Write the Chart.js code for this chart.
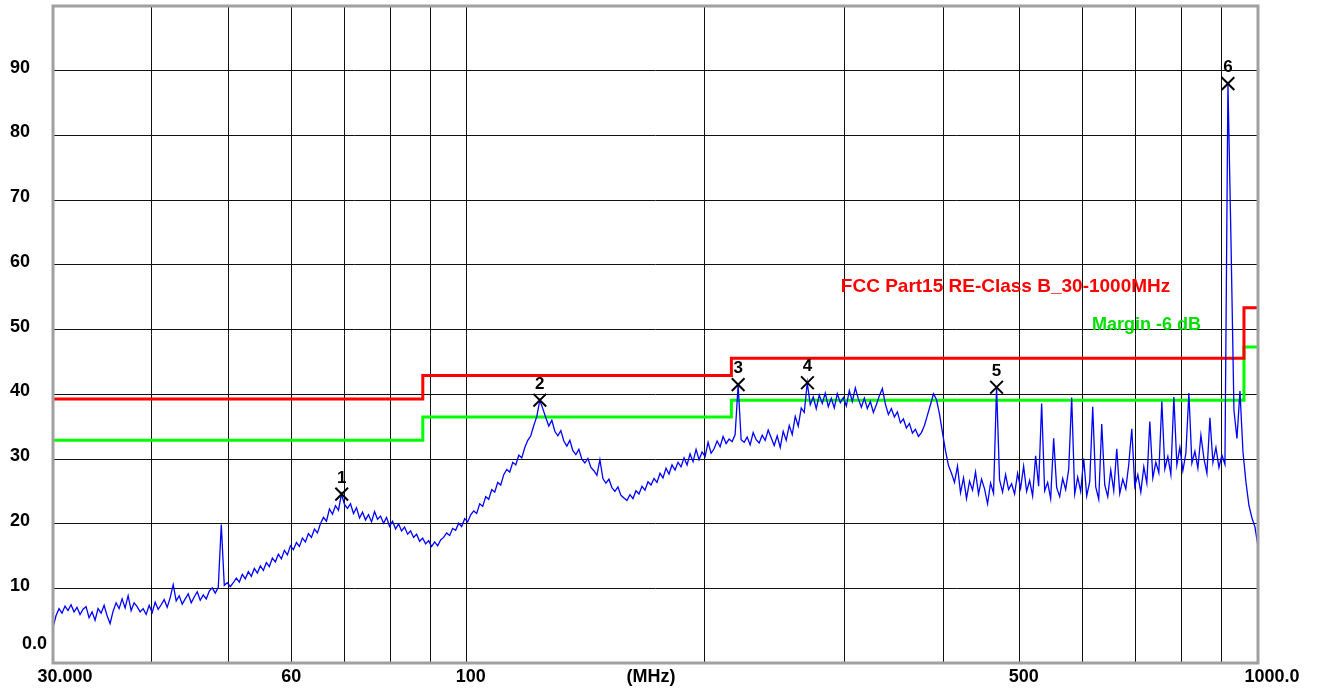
<!DOCTYPE html>
<html><head><meta charset="utf-8">
<script src="https://cdn.jsdelivr.net/npm/chart.js@4"></script>
<style>html,body{margin:0;padding:0;background:#fff;}#wrap{width:1319px;height:690px;}</style>
</head><body><div id="wrap"><canvas id="c" width="1319" height="690"></canvas></div>
<script>
// ---- data ----
const sweepStartMHz = 30;
const sweepStopMHz = 1000;
const traceLevels = [
4.0, 5.8, 6.9, 6.2, 7.3, 6.6, 7.5, 6.4, 7.1, 6.0,
6.8, 7.2, 5.5, 6.4, 5.1, 6.9, 6.2, 7.4, 5.8, 4.6,
6.5, 7.8, 6.9, 8.4, 7.0, 8.9, 6.6, 7.8, 7.2, 6.4,
6.9, 6.0, 7.4, 6.3, 7.9, 6.8, 7.5, 8.3, 7.1, 8.6,
10.6, 8.1, 8.9, 7.6, 8.4, 9.2, 7.8, 8.7, 9.5, 8.2,
9.0, 8.4, 9.6, 10.1, 9.3, 10.2, 19.9, 10.5, 10.9, 10.3,
10.9, 11.6, 11.0, 12.2, 11.5, 12.6, 11.9, 13.1, 12.4, 13.5,
12.8, 14.0, 13.4, 14.7, 14.1, 15.3, 14.6, 15.9, 15.2, 16.6,
16.0, 17.1, 16.5, 17.8, 17.2, 18.5, 17.9, 19.2, 18.6, 20.0,
21.0, 20.4, 22.3, 21.5, 22.8, 22.1, 24.6, 23.0, 22.4, 23.1,
21.6, 22.5, 20.9, 21.8, 20.6, 21.4, 20.3, 21.9, 20.7, 21.2,
20.1, 21.0, 19.6, 20.4, 19.2, 20.0, 18.9, 19.5, 18.4, 18.9,
17.9, 18.4, 17.3, 17.8, 16.9, 17.4, 16.5, 17.2, 16.6, 17.5,
17.9, 18.6, 18.2, 19.3, 19.0, 20.1, 19.6, 20.8, 20.3, 21.4,
22.0, 21.6, 23.1, 22.7, 24.2, 23.8, 25.3, 24.9, 26.4, 26.0,
27.6, 28.4, 28.0, 29.5, 29.1, 30.6, 30.2, 31.8, 32.9, 33.6,
35.2, 36.6, 39.1, 37.8, 36.4, 35.1, 36.0, 34.3, 33.6, 34.4,
32.8, 32.0, 32.9, 31.3, 30.7, 31.5, 30.0, 29.4, 30.1, 28.7,
28.2, 27.5, 29.9, 27.0, 26.3, 26.9, 25.6, 25.0, 25.7, 24.4,
24.0, 23.6, 24.5, 23.9, 25.1, 24.6, 25.8, 25.2, 26.5, 26.0,
27.0, 26.4, 27.8, 27.1, 28.6, 27.7, 29.1, 28.3, 29.5, 28.8,
30.2, 29.1, 30.8, 29.6, 31.5, 29.9, 31.1, 30.4, 32.6, 30.9,
31.6, 32.8, 31.9, 33.5, 32.4, 33.1, 32.7, 33.8, 41.5, 33.0,
32.6, 33.4, 32.2, 34.1, 33.0, 32.5, 33.7, 32.9, 34.5, 33.3,
32.1, 33.6, 31.8, 34.3, 32.9, 35.2, 33.8, 36.6, 35.1, 37.9,
37.2, 41.8, 38.4, 39.6, 37.8, 39.9, 38.6, 40.2, 38.1, 39.4,
37.9, 40.1, 38.7, 39.5, 38.2, 40.6, 38.9, 41.0, 39.3, 38.0,
39.4, 37.8, 38.9, 37.2, 38.4, 39.8, 40.9, 38.5, 36.9, 37.8,
36.5, 37.3, 35.6, 36.2, 34.8, 35.5, 34.0, 34.6, 33.5, 34.1,
35.2, 36.8, 38.4, 40.1, 39.2, 37.0, 34.1, 31.3, 29.0, 27.8,
26.4, 28.9, 24.8, 27.1, 23.9, 26.6, 25.2, 28.0, 24.6, 26.9,
25.4, 23.1, 26.3, 24.7, 41.1, 26.8, 24.9, 27.6, 25.3, 26.2,
24.6, 27.8, 25.5, 28.9, 25.0, 26.7, 24.3, 30.5, 25.8, 38.6,
25.1, 26.4, 23.9, 33.2, 25.6, 24.2, 27.0, 25.3, 28.4, 39.5,
24.6, 27.2, 25.0, 30.1, 24.3, 26.5, 38.1, 25.7, 23.8, 35.4,
26.0, 24.2, 28.3, 25.1, 31.6, 24.7, 26.9, 25.4, 29.2, 34.7,
25.8, 27.6, 24.9, 28.8, 26.3, 35.8, 27.1, 29.5, 27.9, 38.9,
28.5, 30.4, 27.6, 39.6, 29.1, 31.8, 28.2, 30.9, 40.2, 29.4,
31.2, 28.6, 33.7, 30.1, 27.8, 36.4, 29.5, 31.8, 28.7, 30.6,
29.2, 88.0, 64.0, 37.5, 33.2, 40.5, 31.1, 26.4, 22.8, 20.9,
19.5, 16.5
];
const limitFreqs = [30, 88, 216, 960, 1000];
const limitLevels = [39.3, 42.9, 45.6, 53.4, 53.4];
const marginLevels = [32.9, 36.5, 39.1, 47.3, 47.3];
const markerFreqs = [69.5, 123.7, 220.3, 269.5, 467.3, 916.2];
const markerLevels = [24.6, 39.1, 41.5, 41.8, 41.1, 88.0];
const markerLabels = ['1', '2', '3', '4', '5', '6'];
const xGridFreqs = [40, 50, 60, 70, 80, 90, 100, 200, 300, 400, 500, 600, 700, 800, 900];
const yGridLevels = [10, 20, 30, 40, 50, 60, 70, 80, 90];
const xTickFreqs = [30, 60, 100, 171, 500, 1000];
const xTickLabels = ['30.000', '60', '100', '(MHz)', '500', '1000.0'];
const yTickLevels = [0, 10, 20, 30, 40, 50, 60, 70, 80, 90];
const yTickLabels = ['0.0', '10', '20', '30', '40', '50', '60', '70', '80', '90'];
const limitTitle = 'FCC Part15 RE-Class B_30-1000MHz';
const marginTitle = 'Margin -6 dB';

// ---- build datasets ----
const N = traceLevels.length;
const tracePoints = traceLevels.map((v, i) => ({
  x: sweepStartMHz * Math.pow(sweepStopMHz / sweepStartMHz, i / (N - 1)), y: v }));
const limitPoints = limitFreqs.map((f, i) => ({ x: f, y: limitLevels[i] }));
const marginPoints = limitFreqs.map((f, i) => ({ x: f, y: marginLevels[i] }));
const markerPoints = markerFreqs.map((f, i) => ({ x: f, y: markerLevels[i] }));

const FONT = '"Liberation Sans", Arial, sans-serif';

const decor = {
  id: 'decor',
  afterDatasetsDraw(chart) {
    const { ctx, chartArea: a, scales: { x, y } } = chart;
    ctx.save();
    // plot border
    ctx.strokeStyle = '#a0a0a0';
    ctx.lineWidth = 3;
    ctx.strokeRect(a.left, a.top, a.right - a.left, a.bottom - a.top);
    // marker numbers
    ctx.fillStyle = '#000';
    ctx.font = 'bold 17px ' + FONT;
    ctx.textAlign = 'center';
    ctx.textBaseline = 'middle';
    chart.getDatasetMeta(0).data.forEach((p, i) => {
      ctx.fillText(markerLabels[i], p.x, p.y - 16);
    });
    // limit titles
    ctx.textAlign = 'left';
    ctx.font = 'bold 19px ' + FONT;
    ctx.fillStyle = '#ff0000';
    ctx.fillText(limitTitle, x.getPixelForValue(297), y.getPixelForValue(56.6));
    ctx.font = 'bold 18px ' + FONT;
    ctx.fillStyle = '#00e000';
    ctx.fillText(marginTitle, x.getPixelForValue(617), y.getPixelForValue(50.7));
    // y tick labels
    ctx.fillStyle = '#000';
    ctx.font = 'bold 18px ' + FONT;
    ctx.textAlign = 'right';
    yTickLevels.forEach((v, i) => {
      const py = y.getPixelForValue(v);
      if (i === 0) ctx.fillText(yTickLabels[i], a.left - 6, py - 9);
      else ctx.fillText(yTickLabels[i], a.left - 23, py - 3);
    });
    // x tick labels
    const xShift = [12, 0, 4, 0, 4, 14];
    ctx.textAlign = 'center';
    xTickFreqs.forEach((f, i) => {
      ctx.fillText(xTickLabels[i], x.getPixelForValue(f) + xShift[i], a.bottom + 14);
    });
    ctx.restore();
  }
};

new Chart(document.getElementById('c'), {
  type: 'line',
  data: {
    datasets: [
      { data: markerPoints, showLine: false, pointStyle: 'crossRot', pointRadius: 9,
        pointBorderColor: '#000', pointBorderWidth: 2, pointBackgroundColor: '#000' },
      { data: tracePoints, borderColor: '#0000ff', borderWidth: 1.3, pointRadius: 0, tension: 0 },
      { data: limitPoints, borderColor: '#ff0000', borderWidth: 3, pointRadius: 0, stepped: true },
      { data: marginPoints, borderColor: '#00ff00', borderWidth: 3, pointRadius: 0, stepped: true }
    ]
  },
  options: {
    responsive: false,
    animation: false,
    devicePixelRatio: 1,
    layout: { autoPadding: false, padding: { top: 6, right: 61, left: 0, bottom: 0 } },
    plugins: { legend: { display: false }, tooltip: { enabled: false } },
    scales: {
      x: {
        type: 'logarithmic', min: sweepStartMHz, max: sweepStopMHz,
        afterBuildTicks: s => { s.ticks = xGridFreqs.map(v => ({ value: v })); },
        afterFit: s => { s.height = 27; },
        ticks: { display: false },
        grid: { color: '#111', lineWidth: 1, drawTicks: false },
        border: { display: false }
      },
      y: {
        type: 'linear', min: -1.5, max: 100,
        afterBuildTicks: s => { s.ticks = yGridLevels.map(v => ({ value: v })); },
        afterFit: s => { s.width = 53; },
        ticks: { display: false },
        grid: { color: '#111', lineWidth: 1, drawTicks: false },
        border: { display: false }
      }
    }
  },
  plugins: [decor]
});
</script>
</body></html>
